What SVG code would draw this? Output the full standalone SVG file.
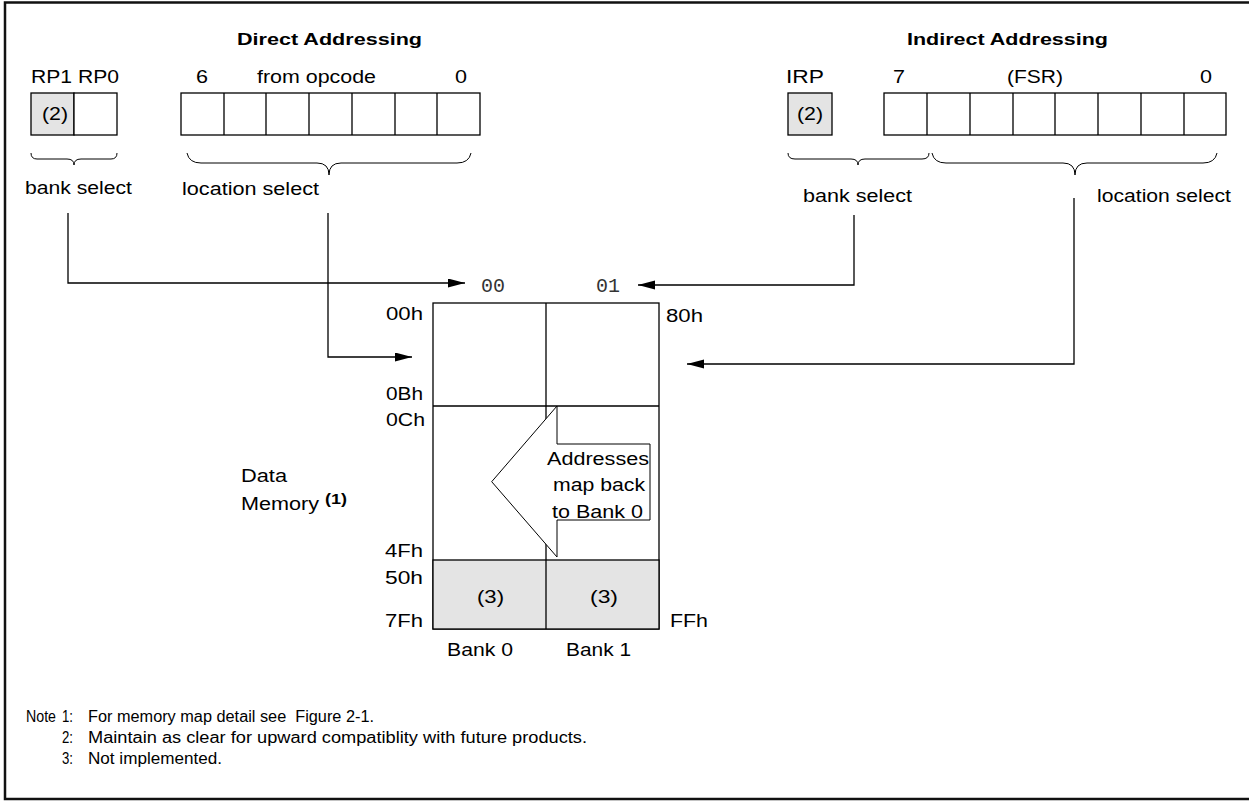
<svg xmlns="http://www.w3.org/2000/svg" width="1249" height="801" viewBox="0 0 1249 801">
<style>
text{font-family:"Liberation Sans",Arial,sans-serif;font-size:17.5px;fill:#000}
.b{font-weight:bold;font-size:17px}
.m{font-family:"Liberation Mono","DejaVu Sans Mono",monospace;font-size:20px;fill:#333}
.n{font-size:16px}
.sup{font-weight:bold;font-size:15px}
.cell{fill:#fff;stroke:#000;stroke-width:1.3}
.sh{fill:#e4e4e4;stroke:#000;stroke-width:1.3}
.br{fill:none;stroke:#000;stroke-width:1}
.ln{fill:none;stroke:#000;stroke-width:1.3}
</style>
<defs>
<marker id="ah" markerUnits="userSpaceOnUse" markerWidth="18" markerHeight="10" refX="17" refY="4.5" orient="auto">
<path d="M0,0 L17,4.5 L0,9 Z" fill="#000"/>
</marker>
</defs>
<rect x="5" y="2.5" width="1250" height="796.5" fill="#fff" stroke="#111" stroke-width="2.5"/>

<g id="direct">
<text class="b" x="237" y="45" textLength="185" lengthAdjust="spacingAndGlyphs">Direct Addressing</text>
<text x="31" y="83" textLength="88" lengthAdjust="spacingAndGlyphs">RP1 RP0</text>
<text x="196" y="83" textLength="12" lengthAdjust="spacingAndGlyphs">6</text>
<text x="257" y="83" textLength="119" lengthAdjust="spacingAndGlyphs">from opcode</text>
<text x="455" y="83" textLength="12" lengthAdjust="spacingAndGlyphs">0</text>
<rect class="sh" x="31" y="93" width="43" height="42"/>
<rect class="cell" x="74" y="93" width="43" height="42"/>
<text x="42" y="120" textLength="26" lengthAdjust="spacingAndGlyphs">(2)</text>
<rect class="cell" x="181" y="93" width="299" height="42"/>
<path class="ln" d="M224,93V135M266,93V135M309,93V135M352,93V135M395,93V135M437,93V135"/>
<path class="br" d="M31,153 Q31,159 37,159 L67,159 Q74,159 74,165 Q74,159 81,159 L111,159 Q117,159 117,153"/>
<path class="br" d="M187,153 Q189,163 201,163 L317,163 Q329,163 329,175 Q329,163 341,163 L457,163 Q469,163 471,153"/>
<text x="25" y="194" textLength="107" lengthAdjust="spacingAndGlyphs">bank select</text>
<text x="182" y="195" textLength="137" lengthAdjust="spacingAndGlyphs">location select</text>
</g>

<g id="indirect">
<text class="b" x="907" y="45" textLength="201" lengthAdjust="spacingAndGlyphs">Indirect Addressing</text>
<text x="786" y="83" textLength="38" lengthAdjust="spacingAndGlyphs">IRP</text>
<text x="893" y="83" textLength="12" lengthAdjust="spacingAndGlyphs">7</text>
<text x="1007" y="83" textLength="56" lengthAdjust="spacingAndGlyphs">(FSR)</text>
<text x="1200" y="83" textLength="12" lengthAdjust="spacingAndGlyphs">0</text>
<rect class="sh" x="788" y="93" width="44" height="42"/>
<text x="797" y="120" textLength="26" lengthAdjust="spacingAndGlyphs">(2)</text>
<rect class="cell" x="884" y="93" width="342" height="42"/>
<path class="ln" d="M927,93V135M970,93V135M1013,93V135M1055,93V135M1098,93V135M1141,93V135M1184,93V135"/>
<path class="br" d="M788,153 Q788,159 795,159 L851,159 Q858,159 858,165 Q858,159 865,159 L922,159 Q929,159 929,153"/>
<path class="br" d="M932,153 Q934,163 946,163 L1063,163 Q1075,163 1075,175 Q1075,163 1087,163 L1203,163 Q1215,163 1217,153"/>
<text x="803" y="202" textLength="109" lengthAdjust="spacingAndGlyphs">bank select</text>
<text x="1097" y="202" textLength="134" lengthAdjust="spacingAndGlyphs">location select</text>
</g>

<g id="memory">
<rect class="cell" x="433" y="303" width="226" height="326"/>
<rect class="sh" x="433" y="560" width="226" height="69"/>
<path class="ln" d="M546,303V629M433,406H659"/>
<polygon points="557,406 491.7,481.7 557,557 557,520 650,520 650,444 557,444" fill="#fff" stroke="#000" stroke-width="1"/>
<text x="547" y="465" textLength="102" lengthAdjust="spacingAndGlyphs">Addresses</text>
<text x="553" y="491" textLength="92" lengthAdjust="spacingAndGlyphs">map back</text>
<text x="552" y="518" textLength="91" lengthAdjust="spacingAndGlyphs">to Bank 0</text>
<text x="477" y="603" textLength="27" lengthAdjust="spacingAndGlyphs">(3)</text>
<text x="590" y="603" textLength="28" lengthAdjust="spacingAndGlyphs">(3)</text>
<text class="m" x="481" y="292" textLength="24" lengthAdjust="spacingAndGlyphs">00</text>
<text class="m" x="596" y="292" textLength="24" lengthAdjust="spacingAndGlyphs">01</text>
<text x="386" y="320" textLength="37" lengthAdjust="spacingAndGlyphs">00h</text>
<text x="666" y="322" textLength="37" lengthAdjust="spacingAndGlyphs">80h</text>
<text x="386" y="400" textLength="37" lengthAdjust="spacingAndGlyphs">0Bh</text>
<text x="386" y="426" textLength="39" lengthAdjust="spacingAndGlyphs">0Ch</text>
<text x="385" y="557" textLength="38" lengthAdjust="spacingAndGlyphs">4Fh</text>
<text x="385" y="584" textLength="38" lengthAdjust="spacingAndGlyphs">50h</text>
<text x="385" y="627" textLength="38" lengthAdjust="spacingAndGlyphs">7Fh</text>
<text x="670" y="627" textLength="38" lengthAdjust="spacingAndGlyphs">FFh</text>
<text x="447" y="656" textLength="66" lengthAdjust="spacingAndGlyphs">Bank 0</text>
<text x="566" y="656" textLength="65" lengthAdjust="spacingAndGlyphs">Bank 1</text>
<text x="241" y="482" textLength="46" lengthAdjust="spacingAndGlyphs">Data</text>
<text x="241" y="510" textLength="78" lengthAdjust="spacingAndGlyphs">Memory</text>
<text class="sup" x="325" y="504" textLength="22" lengthAdjust="spacingAndGlyphs">(1)</text>
</g>

<g id="connectors">
<path class="ln" d="M68,213 V283 H465" marker-end="url(#ah)"/>
<path class="ln" d="M328,213 V357 H412" marker-end="url(#ah)"/>
<path class="ln" d="M854,215 V285 H638" marker-end="url(#ah)"/>
<path class="ln" d="M1074,198 V364 H687" marker-end="url(#ah)"/>
</g>

<g id="notes">
<text class="n" x="26" y="722" textLength="30" lengthAdjust="spacingAndGlyphs">Note</text>
<text class="n" x="62" y="722" textLength="11" lengthAdjust="spacingAndGlyphs">1:</text>
<text class="n" x="88" y="722" textLength="286" lengthAdjust="spacingAndGlyphs" xml:space="preserve">For memory map detail see  Figure 2-1.</text>
<text class="n" x="62" y="743" textLength="11" lengthAdjust="spacingAndGlyphs">2:</text>
<text class="n" x="88" y="743" textLength="499" lengthAdjust="spacingAndGlyphs">Maintain as clear for upward compatiblity with future products.</text>
<text class="n" x="62" y="764" textLength="11" lengthAdjust="spacingAndGlyphs">3:</text>
<text class="n" x="88" y="764" textLength="134" lengthAdjust="spacingAndGlyphs">Not implemented.</text>
</g>
</svg>
